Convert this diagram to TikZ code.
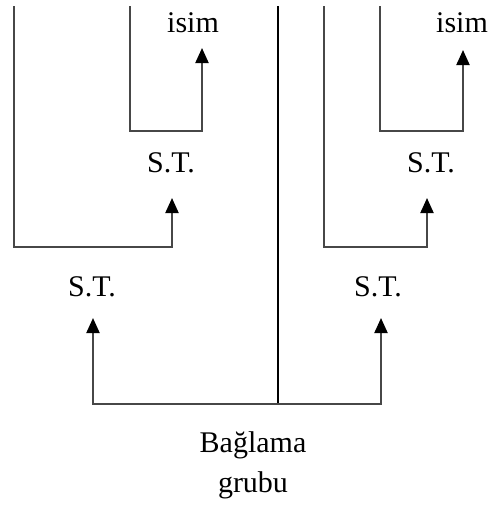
\documentclass[tikz,border=0pt]{standalone}
\usepackage{fontspec}
\setmainfont{Liberation Serif}
\usetikzlibrary{arrows.meta}
\begin{document}
\begin{tikzpicture}[x=1pt,y=-1pt,
  conn/.style={draw=black!72, line width=2pt},
  arr/.style={conn, -{Triangle[width=13pt,length=15pt,color=black]}},
  axisline/.style={draw=black, line width=1.5pt},
  lbl/.style={font=\fontsize{30}{40}\selectfont, inner sep=0pt, text=black}]
\useasboundingbox (0,0) rectangle (490,509);
% labels
\node[lbl] (isimL) at (193,23) {isim};
\node[lbl] (stL1) at (171,163) {S.T.};
\node[lbl] (stL2) at (92,287) {S.T.};
\node[lbl] (isimR) at (462,23) {isim};
\node[lbl] (stR1) at (431,163) {S.T.};
\node[lbl] (stR2) at (378,287) {S.T.};
\node[lbl, align=center] (bag) at (253,465) {Bağlama\\grubu};
% coordinates
\coordinate (topLo) at (14,6);
\coordinate (cLo) at (172,247);
\coordinate (tipLo) at (172,198);
\coordinate (topLi) at (130,6);
\coordinate (cLi) at (202,131);
\coordinate (tipLi) at (202,48);
\coordinate (topRo) at (324,6);
\coordinate (cRo) at (427,247);
\coordinate (tipRo) at (427,198);
\coordinate (topRi) at (380,6);
\coordinate (cRi) at (463,131);
\coordinate (tipRi) at (463,50);
\coordinate (topC) at (278,6);
\coordinate (botC) at (278,404);
\coordinate (tipBL) at (93,318);
\coordinate (tipBR) at (381,318);
% connectors
\draw[arr] (topLo) |- (cLo) -- (tipLo);
\draw[arr] (topLi) |- (cLi) -- (tipLi);
\draw[arr] (topRo) |- (cRo) -- (tipRo);
\draw[arr] (topRi) |- (cRi) -- (tipRi);
\draw[axisline] (topC) -- (botC);
\draw[arr] (botC) -| (tipBL);
\draw[arr] (botC) -| (tipBR);
\end{tikzpicture}
\end{document}
